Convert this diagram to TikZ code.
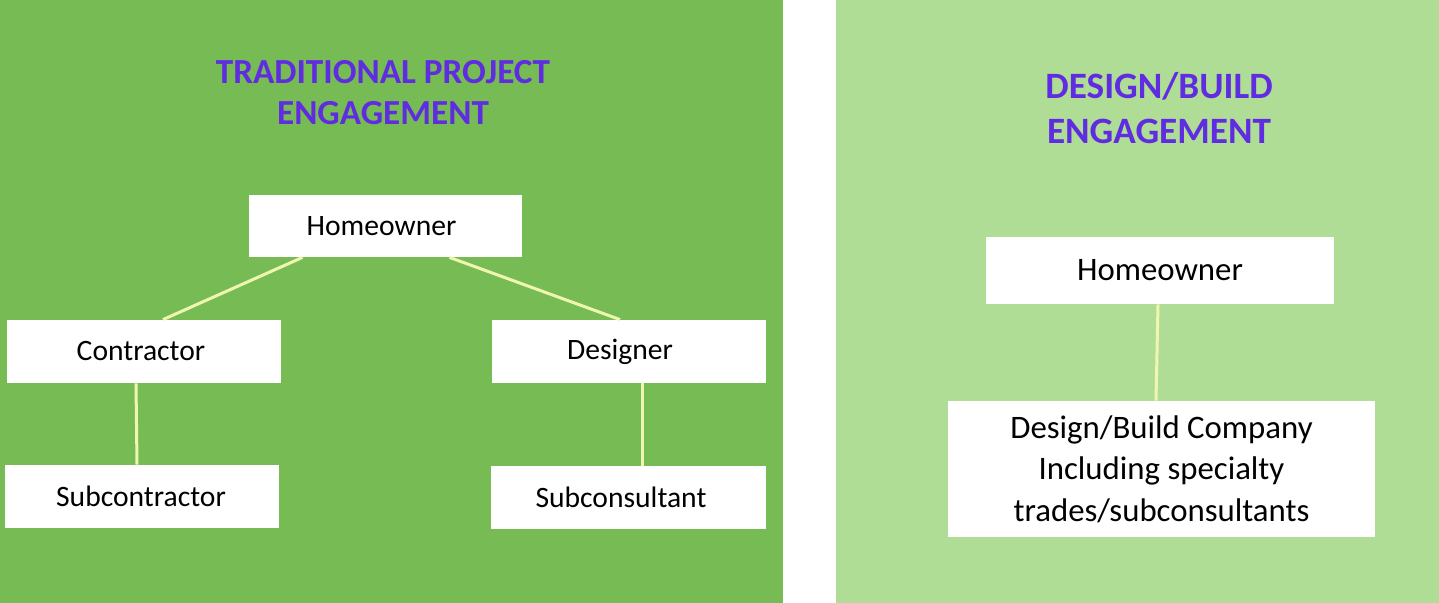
\documentclass[tikz,border=0pt]{standalone}
\usepackage{fontspec}
\setmainfont{Carlito}
\definecolor{darkgreen}{RGB}{119,187,85}
\definecolor{lightgreen}{RGB}{175,221,149}
\definecolor{titlepurple}{RGB}{96,44,226}
\definecolor{linkyellow}{RGB}{240,245,176}
\begin{document}
\begin{tikzpicture}[x=0.5pt,y=-0.5pt,
  box/.style={draw=none,fill=white,inner sep=0pt,font=\fontsize{14.8}{18}\selectfont},
  bigbox/.style={draw=none,fill=white,inner sep=0pt,font=\fontsize{16.4}{20}\selectfont},
  title/.style={text=titlepurple,font=\bfseries\fontsize{17.6}{20.5}\selectfont,align=center},
  titleR/.style={text=titlepurple,font=\bfseries\fontsize{18.6}{22.5}\selectfont,align=center},
  link/.style={draw=linkyellow,line width=1.5pt}]
\useasboundingbox (0,0) rectangle (1439,603);
\fill[white] (0,0) rectangle (1439,603);
\fill[darkgreen] (0,0) rectangle (783,603);
\fill[lightgreen] (836,0) rectangle (1439,603);
% left title
\node[title] (tl1) at (383,72) {TRADITIONAL PROJECT};
\node[title] (tl2) at (383,113) {ENGAGEMENT};
% right title
\node[titleR] (tr1) at (1159,86) {DESIGN/BUILD};
\node[titleR] (tr2) at (1159,131) {ENGAGEMENT};
% left boxes
\node[box,minimum width=136.5pt,minimum height=31pt] (home) at (385.5,226) {Homeowner\hspace*{4pt}};
\node[box,minimum width=137pt,minimum height=31.5pt] (contr) at (144,351.5) {Contractor\hspace*{3pt}};
\node[box,minimum width=137pt,minimum height=31.5pt] (design) at (629,351.5) {Designer\hspace*{9pt}};
\node[box,minimum width=137pt,minimum height=31.5pt] (subcontr) at (142,496.5) {Subcontractor\hspace*{1pt}};
\node[box,minimum width=137.5pt,minimum height=31.5pt] (subcons) at (628.5,497.5) {Subconsultant\hspace*{7.5pt}};
% left links
\draw[link] ([xshift=-41.5pt]home.south) -- ([xshift=9.5pt]contr.north);
\draw[link] ([xshift=32pt]home.south) -- ([xshift=-4.5pt]design.north);
\draw[link] ([xshift=-4pt]contr.south) -- ([xshift=-2.5pt]subcontr.north);
\draw[link] ([xshift=6.5pt]design.south) -- ([xshift=6.75pt]subcons.north);
% right boxes
\node[bigbox,minimum width=174pt,minimum height=33.5pt] (homeR) at (1160,270.5) {Homeowner};
\node[bigbox,minimum width=213.5pt,minimum height=68pt,align=center,font=\fontsize{16.4}{20.7}\selectfont] (dbc) at (1161.5,469) {\raisebox{-2pt}{}Design/Build Company\\Including specialty\\trades/subconsultants};
\draw[link] ([xshift=-1pt]homeR.south) -- ([xshift=-2.75pt]dbc.north);
\end{tikzpicture}
\end{document}
